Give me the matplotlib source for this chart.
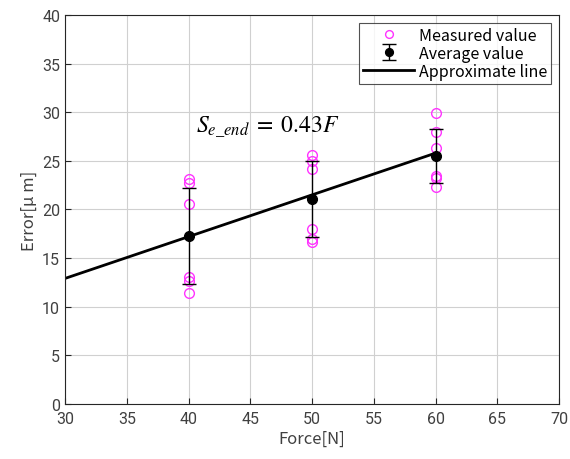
import numpy as np
import matplotlib.pyplot as plt

plt.rcParams['font.family'] = ['Noto Sans CJK JP', 'DejaVu Sans']
plt.rcParams['mathtext.fontset'] = 'stix'

# Данные
forces = [40, 50, 60]
measured = [
    [23.1, 22.7, 20.6, 13.1, 12.6, 11.4],
    [25.6, 25.0, 24.2, 18.0, 17.0, 16.7],
    [29.9, 28.0, 26.3, 23.4, 23.2, 22.3],
]
slope = 0.43
line_x = [30, 60]

means = [np.mean(m) for m in measured]
stds = [np.std(m) for m in measured]

fig = plt.figure(figsize=(5.7, 4.6), dpi=100)
ax = fig.add_axes([0.114, 0.12, 0.867, 0.845])

for f, m in zip(forces, measured):
    ax.plot([f] * len(m), m, 'o', mfc='none', mec='#ff33ff', ms=7, mew=1.0,
            label='Measured value' if f == forces[0] else None, zorder=3)
ax.errorbar(forces, means, yerr=stds, fmt='o', color='black', ms=7,
            capsize=5, elinewidth=1, capthick=1, label='Average value', zorder=4)
lx = np.array(line_x)
ax.plot(lx, slope * lx, color='black', lw=2, label='Approximate line', zorder=2)

ax.text(40.6, 28.5, r'$S_{e\_end}\;=\;0.43F$', fontsize=17, va='center')

ax.set_xlim(30, 70)
ax.set_ylim(0, 40)
ax.set_xticks(np.arange(30, 71, 5))
ax.set_yticks(np.arange(0, 41, 5))
ax.grid(True, color='#d0d0d0', lw=0.8)
ax.tick_params(direction='in', colors='#262626', labelcolor='#404040', labelsize=11.5, length=4)
ax.tick_params(axis='x', pad=5)
for lab in ax.get_xticklabels() + ax.get_yticklabels():
    lab.set_family('Roboto')
for s in ax.spines.values():
    s.set_color('#262626')
    s.set_linewidth(0.8)
ax.set_xlabel('Force[N]', fontsize=12, color='#404040', labelpad=3)
ax.set_ylabel('Error[μ m]', fontsize=12, color='#404040', labelpad=3)

h, l = ax.get_legend_handles_labels()
order = [l.index('Measured value'), l.index('Average value'), l.index('Approximate line')]
leg = ax.legend([h[i] for i in order], [l[i] for i in order], loc='upper right',
                fontsize=11.5, fancybox=False, edgecolor='#262626', markerscale=0.8,
                handlelength=3.2, borderpad=0.25, labelspacing=0.05, handletextpad=0.3,
                borderaxespad=0.5)
leg.get_frame().set_linewidth(0.8)

fig.savefig('out.png', dpi=100)
